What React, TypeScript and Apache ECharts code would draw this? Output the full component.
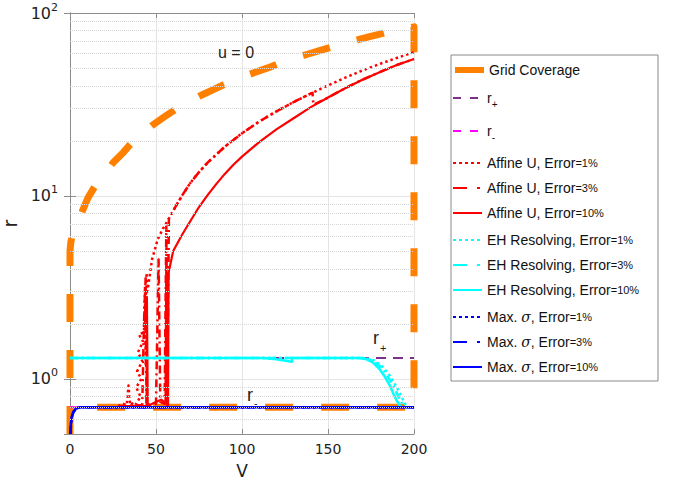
import React, { useEffect, useRef } from 'react';
import * as echarts from 'echarts';

const xMin = 0;
const xMax = 200;
const xInterval = 50;
const yMin = 0.5;
const yMax = 100;
const minorGrid = [0.6, 0.7, 0.8, 0.9, 2, 3, 4, 5, 6, 7, 8, 9, 20, 30, 40, 50, 60, 70, 80, 90];

const gridCoverage = [
  [0, 0.5], [0, 5.0], [0.5, 5.6], [1.5, 6.2], [3, 6.7], [5, 7.3], [7.5, 8.4], [10.5, 9.8],
  [15, 11.5], [20, 13.1], [25, 15.2], [31, 17.3], [36, 19.6], [42, 21.9], [48, 24.4], [55, 27.1],
  [62, 30], [69, 32.7], [76, 35.4], [83, 38], [91, 41.2], [99, 44.2], [107, 47.2], [115, 50.1],
  [122, 53.3], [130, 56.5], [138, 59.5], [145, 62.2], [153, 65.5], [161, 68.6], [168, 71.7],
  [176, 75], [184, 78.3], [193, 81.8], [200, 84], [200, 0.7], [0, 0.7],
];
const rPlus = [[0, 1.3], [200, 1.3]];
const rMinus = [[0, 0.7], [200, 0.7]];

const affine1 = [
  [28, 0.71], [31, 0.73], [33, 0.72], [34, 0.92], [35, 0.72], [37, 0.74], [38, 0.72],
  [41, 0.8], [38.5, 0.9], [41.5, 1.0], [39, 1.1], [42, 1.25], [39.5, 1.4], [42.5, 1.6],
  [40, 1.75], [43, 1.8], [43.6, 3.2], [44, 1.2], [44.5, 3.8], [45, 3.0], [47.7, 4.5],
  [51, 5.8], [54, 6.6], [57, 7.4], [60, 8.3], [65, 10], [70, 11.8], [75, 13.5], [80, 15.2],
  [90, 18.6], [100, 22], [110, 25.5], [120, 29], [130, 32.6], [140, 36.3], [150, 40.2],
  [160, 44.3], [170, 48.5], [180, 52.6], [190, 56.8], [200, 61],
];
const affine3 = [
  [28, 0.71], [42, 0.72], [43, 2.0], [44, 3.6], [44.5, 0.72], [50, 0.73], [51.5, 4.5],
  [52.5, 0.75], [55, 0.73], [56, 6.8], [56.5, 0.72], [57.5, 7.6], [60, 8.3], [65, 10],
  [70, 11.8], [75, 13.5], [80, 15.2], [90, 18.6], [100, 22], [110, 25.5], [120, 29],
  [130, 32.6], [140, 36.3], [141, 36.6], [141.5, 31.5], [150, 34.5], [160, 38.8],
  [170, 43.2], [180, 47.5], [190, 52], [200, 56],
];
const affine10 = [
  [30, 0.71], [44.5, 0.71], [44.7, 2.8], [45.2, 0.71], [49, 0.74], [53, 0.77], [55.5, 0.74],
  [56, 4.5], [56.3, 0.9], [57, 0.72], [57.3, 3.8], [60, 5.0], [65, 6.1], [70, 7.3],
  [75, 8.7], [80, 10.1], [85, 11.6], [90, 13.2], [95, 14.8], [100, 16.4], [110, 19.7],
  [120, 23.1], [130, 26.6], [140, 30.6], [150, 34.5], [160, 38.8], [170, 43.2],
  [180, 47.5], [190, 52], [200, 56],
];

const eh1 = [[0, 1.3], [172, 1.3], [177, 1.26], [182, 1.16], [186, 1.04], [190, 0.9], [193, 0.79], [195.5, 0.71], [196, 0.7]];
const eh3 = [[0, 1.3], [170, 1.3], [175, 1.27], [180, 1.18], [184, 1.06], [188, 0.92], [191, 0.8], [193.5, 0.72], [194, 0.7]];
const eh10 = [
  [0, 1.3], [112, 1.3], [120, 1.28], [129, 1.24], [129.3, 1.3], [168, 1.3], [172.5, 1.28],
  [176, 1.23], [180, 1.13], [183, 1.03], [186, 0.92], [188, 0.83], [190, 0.76], [192, 0.71], [193, 0.7],
];

const maxSigma1 = [[0.3, 0.5], [0.6, 0.57], [1.1, 0.62], [2, 0.66], [3.5, 0.69], [6, 0.7], [200, 0.7]];
const maxSigma3 = [[0.25, 0.5], [0.55, 0.57], [1, 0.62], [2, 0.66], [3.5, 0.69], [6, 0.7], [200, 0.7]];
const maxSigma10 = [[0.2, 0.5], [0.5, 0.57], [1, 0.62], [2, 0.66], [3.5, 0.69], [6, 0.7], [200, 0.7]];

const ORANGE = '#ff8000';
const PURPLE = '#7e2f8e';
const MAGENTA = '#ff00ff';
const RED = '#ff0000';
const CYAN = '#00ffff';
const BLUE = '#0000ff';

const DOT = [2.5, 3];
const DASHDOT = [8, 4, 2, 4];
const FONT = 'Liberation Sans, Arial, sans-serif';
const TICKFONT = 'DejaVu Sans, sans-serif';

function line(name: string, data: number[][], color: string, width: number, type: any) {
  return {
    type: 'line',
    name,
    data,
    showSymbol: false,
    symbol: 'none',
    clip: false,
    silent: true,
    lineStyle: { color, width, type, cap: 'butt', join: 'round' },
    itemStyle: { color },
  };
}

const legendNames = [
  'Grid Coverage', 'r+', 'r-',
  'Affine U, Error=1%', 'Affine U, Error=3%', 'Affine U, Error=10%',
  'EH Resolving, Error=1%', 'EH Resolving, Error=3%', 'EH Resolving, Error=10%',
  'Max. σ, Error=1%', 'Max. σ, Error=3%', 'Max. σ, Error=10%',
];
// vertical centre (px) of each legend row
const legendRowY = [70, 98, 131, 163, 188, 213, 240, 265, 290, 317, 342, 367];

function legendFormat(name: string) {
  if (name === 'r+') return 'r{sub|+}';
  if (name === 'r-') return 'r{sub|-}';
  return name.replace('σ', '{i|σ}').replace(/Error=(\d+%)/, 'Error{s|=$1}');
}

function legendItem(n: string) {
  if (n === 'Grid Coverage') return { name: n, lineStyle: { type: 'solid', width: 6 } };
  if (n === 'r+' || n === 'r-') return { name: n, lineStyle: { type: [8, 9] } };
  if (n.endsWith('=1%')) return { name: n, lineStyle: { type: [3, 3] } };
  if (n.endsWith('=3%')) return { name: n, lineStyle: { type: [14, 10, 3, 10] } };
  return { name: n };
}

export default function App() {
  const ref = useRef<HTMLDivElement>(null);
  useEffect(() => {
    const chart = echarts.init(ref.current!, null, { renderer: 'svg' });
    const axisColor = '#8c8c8c';
    const legends = legendNames.map((n, i) => ({
      orient: 'vertical', left: 452, top: legendRowY[i] - 7,
      padding: 0,
      itemWidth: 29, itemHeight: 14,
      borderWidth: 0, backgroundColor: 'transparent',
      selectedMode: false,
      itemStyle: { opacity: 0, borderWidth: 0 },
      textStyle: {
        fontFamily: FONT, fontSize: 14, color: '#111',
        rich: {
          s: { fontFamily: FONT, fontSize: 11, color: '#111' },
          i: { fontFamily: 'DejaVu Serif, serif', fontStyle: 'italic', fontSize: 14, color: '#111' },
          sub: { fontFamily: FONT, fontSize: 10, color: '#111', padding: [12, 0, 0, 0] },
        },
      },
      formatter: legendFormat,
      data: [legendItem(n)],
    }));
    const option: any = {
      animation: false,
      backgroundColor: '#ffffff',
      grid: { left: 70, right: 261, top: 13, bottom: 45, containLabel: false, outerBoundsMode: 'none' },
      xAxis: [
        {
          type: 'value', min: xMin, max: xMax, interval: xInterval,
          name: 'V', nameLocation: 'middle', nameGap: 28,
          nameTextStyle: { fontFamily: TICKFONT, fontSize: 17, color: '#222' },
          axisLine: { lineStyle: { color: axisColor } },
          axisTick: { inside: true, length: 5, lineStyle: { color: axisColor } },
          axisLabel: { fontFamily: TICKFONT, fontSize: 14, color: '#222', margin: 8 },
          splitLine: { show: true, lineStyle: { color: '#e4e4e4', width: 1 } },
        },
        {
          type: 'value', min: xMin, max: xMax, interval: xInterval, position: 'top',
          axisLine: { show: true, lineStyle: { color: axisColor } },
          axisTick: { inside: true, length: 5, lineStyle: { color: axisColor } },
          axisLabel: { show: false }, splitLine: { show: false },
        },
      ],
      yAxis: [
        {
          type: 'log', logBase: 10, min: yMin, max: yMax,
          name: 'r', nameLocation: 'middle', nameGap: 45, nameRotate: 90,
          nameTextStyle: { fontFamily: TICKFONT, fontSize: 19, color: '#222' },
          axisLine: { show: true, lineStyle: { color: axisColor } },
          axisTick: { inside: true, length: 6, lineStyle: { color: axisColor } },
          axisLabel: {
            fontFamily: TICKFONT, fontSize: 16, color: '#222', margin: 12,
            showMinLabel: false,
            formatter: (v: number) => {
              const e = Math.log10(v);
              const r = Math.round(e);
              return Math.abs(e - r) < 1e-6 ? '10{sup|' + r + '}' : '';
            },
            rich: { sup: { fontFamily: TICKFONT, fontSize: 11, color: '#222', padding: [0, 0, 12, 0] } },
          },
          splitLine: { show: true, lineStyle: { color: '#e4e4e4', width: 1 } },
        },
        {
          type: 'log', logBase: 10, min: yMin, max: yMax, position: 'right',
          axisLine: { show: true, lineStyle: { color: axisColor } },
          axisTick: { inside: true, length: 6, lineStyle: { color: axisColor } },
          axisLabel: { show: false }, splitLine: { show: false },
        },
      ],
      legend: legends,
      graphic: [
        {
          type: 'rect', z: 1, silent: true,
          shape: { x: 451, y: 55, width: 207, height: 326 },
          style: { fill: '#ffffff', stroke: '#8a8a8a', lineWidth: 1 },
        },
        { type: 'text', x: 218, y: 44, style: { text: 'u = 0', font: '16px ' + FONT, fill: '#222' }, z: 100 },
        { type: 'text', x: 373, y: 329, style: { text: 'r', font: '18px ' + FONT, fill: '#222' }, z: 100 },
        { type: 'text', x: 380, y: 342, style: { text: '+', font: '11px ' + FONT, fill: '#222' }, z: 100 },
        { type: 'text', x: 247, y: 386, style: { text: 'r', font: '18px ' + FONT, fill: '#222' }, z: 100 },
        { type: 'text', x: 254, y: 397, style: { text: '-', font: '11px ' + FONT, fill: '#222' }, z: 100 },
      ],
      series: [
        {
          type: 'line', name: '_minor', data: [], silent: true, showSymbol: false,
          markLine: {
            silent: true, symbol: ['none', 'none'], label: { show: false },
            lineStyle: { type: 'dotted', color: '#d6d6d6', width: 1 },
            data: minorGrid.map((v) => ({ yAxis: v })),
          },
        },
        line('Grid Coverage', gridCoverage, ORANGE, 7, [28, 28]),
        line('r+', rPlus, PURPLE, 2, [10, 7]),
        line('r-', rMinus, MAGENTA, 2, [10, 7]),
        line('Affine U, Error=1%', affine1, RED, 2.5, DOT),
        line('Affine U, Error=3%', affine3, RED, 2.5, DASHDOT),
        line('Affine U, Error=10%', affine10, RED, 2.2, 'solid'),
        line('EH Resolving, Error=1%', eh1, CYAN, 2.5, DOT),
        line('EH Resolving, Error=3%', eh3, CYAN, 2.5, DASHDOT),
        line('EH Resolving, Error=10%', eh10, CYAN, 2.5, 'solid'),
        line('Max. σ, Error=1%', maxSigma1, BLUE, 2.5, DOT),
        line('Max. σ, Error=3%', maxSigma3, BLUE, 2.5, DASHDOT),
        line('Max. σ, Error=10%', maxSigma10, BLUE, 2.5, 'solid'),
      ],
    };
    chart.setOption(option);
    return () => chart.dispose();
  }, []);
  return <div ref={ref} style={{ position: 'fixed', left: 0, top: 0, width: 675, height: 479 }} />;
}
